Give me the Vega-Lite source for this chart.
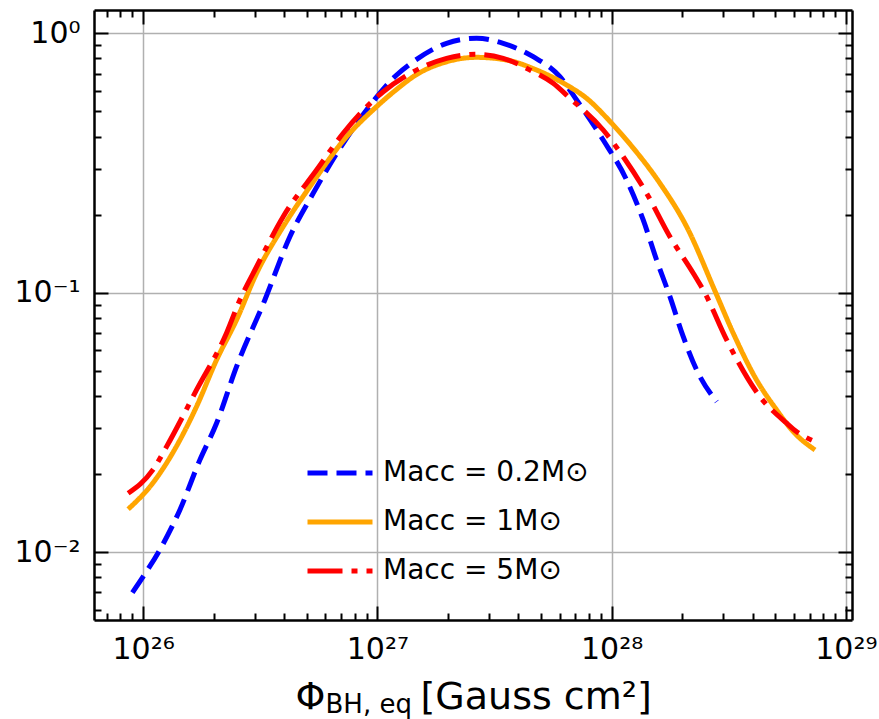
{
  "$schema": "https://vega.github.io/schema/vega-lite/v6.json",
  "width": 758,
  "height": 610,
  "autosize": "none",
  "padding": {"left": 94, "top": 10, "right": 27, "bottom": 99},
  "background": "white",
  "config": {
    "view": {"stroke": null},
    "font": "DejaVu Sans",
    "axis": {
      "labelFont": "DejaVu Sans",
      "titleFont": "DejaVu Sans",
      "labelColor": "black",
      "titleColor": "black",
      "tickColor": "black",
      "domainColor": "black",
      "tickWidth": 2,
      "domainWidth": 2.5,
      "labelFlush": false,
      "labelOverlap": false,
      "titleFontWeight": "normal"
    }
  },
  "datasets": {
    "curves": [
      {"series": "Macc = 0.2M⊙", "phi": 9.0e25, "frac": 0.00699},
      {"series": "Macc = 0.2M⊙", "phi": 1.0e26, "frac": 0.00805},
      {"series": "Macc = 0.2M⊙", "phi": 1.178e26, "frac": 0.01021},
      {"series": "Macc = 0.2M⊙", "phi": 1.435e26, "frac": 0.01456},
      {"series": "Macc = 0.2M⊙", "phi": 1.747e26, "frac": 0.02269},
      {"series": "Macc = 0.2M⊙", "phi": 2.058e26, "frac": 0.03141},
      {"series": "Macc = 0.2M⊙", "phi": 2.505e26, "frac": 0.0519},
      {"series": "Macc = 0.2M⊙", "phi": 3.308e26, "frac": 0.0938},
      {"series": "Macc = 0.2M⊙", "phi": 4.23e26, "frac": 0.1645},
      {"series": "Macc = 0.2M⊙", "phi": 5.32e26, "frac": 0.2417},
      {"series": "Macc = 0.2M⊙", "phi": 7.145e26, "frac": 0.3768},
      {"series": "Macc = 0.2M⊙", "phi": 8.99e26, "frac": 0.5063},
      {"series": "Macc = 0.2M⊙", "phi": 1.208e27, "frac": 0.691},
      {"series": "Macc = 0.2M⊙", "phi": 1.422e27, "frac": 0.777},
      {"series": "Macc = 0.2M⊙", "phi": 1.975e27, "frac": 0.915},
      {"series": "Macc = 0.2M⊙", "phi": 2.652e27, "frac": 0.957},
      {"series": "Macc = 0.2M⊙", "phi": 3.444e27, "frac": 0.915},
      {"series": "Macc = 0.2M⊙", "phi": 4.627e27, "frac": 0.8125},
      {"series": "Macc = 0.2M⊙", "phi": 6.016e27, "frac": 0.6805},
      {"series": "Macc = 0.2M⊙", "phi": 7.088e27, "frac": 0.5533},
      {"series": "Macc = 0.2M⊙", "phi": 9.207e27, "frac": 0.388},
      {"series": "Macc = 0.2M⊙", "phi": 1.159e28, "frac": 0.272},
      {"series": "Macc = 0.2M⊙", "phi": 1.364e28, "frac": 0.1908},
      {"series": "Macc = 0.2M⊙", "phi": 1.556e28, "frac": 0.1338},
      {"series": "Macc = 0.2M⊙", "phi": 1.774e28, "frac": 0.0966},
      {"series": "Macc = 0.2M⊙", "phi": 2.022e28, "frac": 0.0677},
      {"series": "Macc = 0.2M⊙", "phi": 2.307e28, "frac": 0.0504},
      {"series": "Macc = 0.2M⊙", "phi": 2.809e28, "frac": 0.038},
      {"series": "Macc = 1M⊙", "phi": 8.63e25, "frac": 0.01465},
      {"series": "Macc = 1M⊙", "phi": 1.103e26, "frac": 0.01854},
      {"series": "Macc = 1M⊙", "phi": 1.411e26, "frac": 0.0263},
      {"series": "Macc = 1M⊙", "phi": 1.69e26, "frac": 0.0364},
      {"series": "Macc = 1M⊙", "phi": 2.058e26, "frac": 0.0551},
      {"series": "Macc = 1M⊙", "phi": 2.505e26, "frac": 0.0786},
      {"series": "Macc = 1M⊙", "phi": 3.05e26, "frac": 0.1189},
      {"series": "Macc = 1M⊙", "phi": 3.96e26, "frac": 0.1798},
      {"series": "Macc = 1M⊙", "phi": 5.15e26, "frac": 0.2563},
      {"series": "Macc = 1M⊙", "phi": 7.39e26, "frac": 0.3996},
      {"series": "Macc = 1M⊙", "phi": 9.92e26, "frac": 0.5215},
      {"series": "Macc = 1M⊙", "phi": 1.248e27, "frac": 0.6226},
      {"series": "Macc = 1M⊙", "phi": 1.422e27, "frac": 0.6805},
      {"series": "Macc = 1M⊙", "phi": 1.975e27, "frac": 0.777},
      {"series": "Macc = 1M⊙", "phi": 2.652e27, "frac": 0.808},
      {"series": "Macc = 1M⊙", "phi": 3.562e27, "frac": 0.789},
      {"series": "Macc = 1M⊙", "phi": 4.784e27, "frac": 0.722},
      {"series": "Macc = 1M⊙", "phi": 6.427e27, "frac": 0.632},
      {"series": "Macc = 1M⊙", "phi": 7.823e27, "frac": 0.5617},
      {"series": "Macc = 1M⊙", "phi": 9.83e27, "frac": 0.458},
      {"series": "Macc = 1M⊙", "phi": 1.236e28, "frac": 0.3614},
      {"series": "Macc = 1M⊙", "phi": 1.608e28, "frac": 0.2642},
      {"series": "Macc = 1M⊙", "phi": 2.09e28, "frac": 0.1798},
      {"series": "Macc = 1M⊙", "phi": 2.785e28, "frac": 0.0998},
      {"series": "Macc = 1M⊙", "phi": 3.306e28, "frac": 0.0698},
      {"series": "Macc = 1M⊙", "phi": 4.159e28, "frac": 0.0461},
      {"series": "Macc = 1M⊙", "phi": 5.064e28, "frac": 0.03535},
      {"series": "Macc = 1M⊙", "phi": 5.963e28, "frac": 0.02916},
      {"series": "Macc = 1M⊙", "phi": 7.38e28, "frac": 0.02479},
      {"series": "Macc = 5M⊙", "phi": 8.63e25, "frac": 0.01688},
      {"series": "Macc = 5M⊙", "phi": 1.1e26, "frac": 0.02076},
      {"series": "Macc = 5M⊙", "phi": 1.259e26, "frac": 0.02553},
      {"series": "Macc = 5M⊙", "phi": 1.69e26, "frac": 0.04221},
      {"series": "Macc = 5M⊙", "phi": 2.271e26, "frac": 0.07001},
      {"series": "Macc = 5M⊙", "phi": 2.588e26, "frac": 0.0938},
      {"series": "Macc = 5M⊙", "phi": 3.05e26, "frac": 0.126},
      {"series": "Macc = 5M⊙", "phi": 3.96e26, "frac": 0.1965},
      {"series": "Macc = 5M⊙", "phi": 5.5e26, "frac": 0.2972},
      {"series": "Macc = 5M⊙", "phi": 7.145e26, "frac": 0.4118},
      {"series": "Macc = 5M⊙", "phi": 1.059e27, "frac": 0.5956},
      {"series": "Macc = 5M⊙", "phi": 1.422e27, "frac": 0.711},
      {"series": "Macc = 5M⊙", "phi": 1.975e27, "frac": 0.801},
      {"series": "Macc = 5M⊙", "phi": 2.652e27, "frac": 0.83},
      {"series": "Macc = 5M⊙", "phi": 3.444e27, "frac": 0.801},
      {"series": "Macc = 5M⊙", "phi": 4.478e27, "frac": 0.722},
      {"series": "Macc = 5M⊙", "phi": 5.63e27, "frac": 0.6416},
      {"series": "Macc = 5M⊙", "phi": 6.53e27, "frac": 0.5697},
      {"series": "Macc = 5M⊙", "phi": 9.207e27, "frac": 0.424},
      {"series": "Macc = 5M⊙", "phi": 1.121e28, "frac": 0.3345},
      {"series": "Macc = 5M⊙", "phi": 1.411e28, "frac": 0.2417},
      {"series": "Macc = 5M⊙", "phi": 1.774e28, "frac": 0.1645},
      {"series": "Macc = 5M⊙", "phi": 2.231e28, "frac": 0.1189},
      {"series": "Macc = 5M⊙", "phi": 2.503e28, "frac": 0.0996},
      {"series": "Macc = 5M⊙", "phi": 3.098e28, "frac": 0.0658},
      {"series": "Macc = 5M⊙", "phi": 4.297e28, "frac": 0.03978},
      {"series": "Macc = 5M⊙", "phi": 5.59e28, "frac": 0.03142},
      {"series": "Macc = 5M⊙", "phi": 6.166e28, "frac": 0.02916},
      {"series": "Macc = 5M⊙", "phi": 7.38e28, "frac": 0.02668}
    ]
  },
  "layer": [
    {
      "data": {"name": "curves"},
      "mark": {"type": "line", "strokeWidth": 5, "interpolate": "monotone", "strokeCap": "butt"},
      "encoding": {
        "x": {
          "field": "phi", "type": "quantitative",
          "scale": {"type": "log", "domain": [6.17e25, 1.062e29], "nice": false},
          "axis": {
            "orient": "bottom",
            "values": [1e26, 1e27, 1e28, 1e29],
            "labelExpr": "'10' + (datum.value < 5e26 ? '²⁶' : datum.value < 5e27 ? '²⁷' : datum.value < 5e28 ? '²⁸' : '²⁹')",
            "labelFontSize": 30,
            "labelPadding": 28,
            "tickSize": -14,
            "grid": true, "gridColor": "#b0b0b0", "gridWidth": 1.5,
            "title": "Φ", "titleFontSize": 38, "titleAlign": "left", "titleBaseline": "alphabetic",
            "titleX": 201, "titleY": 88, "titleAnchor": null
          }
        },
        "y": {
          "field": "frac", "type": "quantitative",
          "scale": {"type": "log", "domain": [0.00548, 1.23], "nice": false},
          "axis": {
            "orient": "left",
            "values": [0.01, 0.1, 1],
            "labelExpr": "datum.value > 0.5 ? '10⁰' : datum.value > 0.05 ? '10⁻¹' : '10⁻²'",
            "labelFontSize": 30,
            "labelPadding": 28,
            "tickSize": -14,
            "grid": true, "gridColor": "#b0b0b0", "gridWidth": 1.5,
            "title": null
          }
        },
        "color": {
          "field": "series", "type": "nominal",
          "scale": {"domain": ["Macc = 0.2M⊙", "Macc = 1M⊙", "Macc = 5M⊙"], "range": ["#0000ff", "#ffa500", "#ff0000"]},
          "legend": {
            "orient": "none", "legendX": 211, "legendY": 428,
            "title": null,
            "symbolType": "stroke", "symbolSize": 4225, "symbolStrokeWidth": 5,
            "labelFontSize": 28, "labelFont": "DejaVu Sans", "labelColor": "black",
            "labelOffset": 8, "rowPadding": -15, "labelLimit": 400
          }
        },
        "strokeDash": {
          "field": "series", "type": "nominal",
          "scale": {"domain": ["Macc = 0.2M⊙", "Macc = 1M⊙", "Macc = 5M⊙"], "range": [[20, 9], [1, 0], [35, 9, 6, 9]]},
          "legend": null
        }
      }
    },
    {
      "data": {"name": "curves"},
      "mark": {"type": "point", "opacity": 0},
      "encoding": {
        "x": {
          "field": "phi", "type": "quantitative",
          "scale": {"type": "log", "domain": [6.17e25, 1.062e29], "nice": false},
          "axis": {"orient": "top", "values": [1e26, 1e27, 1e28, 1e29], "labels": false, "tickSize": -14, "grid": false, "title": null}
        },
        "y": {
          "field": "frac", "type": "quantitative",
          "scale": {"type": "log", "domain": [0.00548, 1.23], "nice": false},
          "axis": {"orient": "right", "values": [0.01, 0.1, 1], "labels": false, "tickSize": -14, "grid": false, "title": null}
        }
      }
    },
    {
      "data": {"name": "curves"},
      "mark": {"type": "point", "opacity": 0},
      "encoding": {
        "x": {
          "field": "phi", "type": "quantitative",
          "scale": {"type": "log", "domain": [6.17e25, 1.062e29], "nice": false},
          "axis": {
            "orient": "bottom",
            "values": [7e25, 8e25, 9e25, 2e26, 3e26, 4e26, 5e26, 6e26, 7e26, 8e26, 9e26, 2e27, 3e27, 4e27, 5e27, 6e27, 7e27, 8e27, 9e27, 2e28, 3e28, 4e28, 5e28, 6e28, 7e28, 8e28, 9e28],
            "labels": false, "tickSize": -7, "grid": false, "domain": false,
            "title": "BH, eq", "titleFontSize": 26, "titleAlign": "left", "titleBaseline": "alphabetic",
            "titleX": 231, "titleY": 92, "titleAnchor": null
          }
        },
        "y": {
          "field": "frac", "type": "quantitative",
          "scale": {"type": "log", "domain": [0.00548, 1.23], "nice": false},
          "axis": {
            "orient": "left",
            "values": [0.006, 0.007, 0.008, 0.009, 0.02, 0.03, 0.04, 0.05, 0.06, 0.07, 0.08, 0.09, 0.2, 0.3, 0.4, 0.5, 0.6, 0.7, 0.8, 0.9],
            "labels": false, "tickSize": -7, "grid": false, "domain": false, "title": null
          }
        }
      }
    },
    {
      "data": {"name": "curves"},
      "mark": {"type": "point", "opacity": 0},
      "encoding": {
        "x": {
          "field": "phi", "type": "quantitative",
          "scale": {"type": "log", "domain": [6.17e25, 1.062e29], "nice": false},
          "axis": {
            "orient": "top",
            "values": [7e25, 8e25, 9e25, 2e26, 3e26, 4e26, 5e26, 6e26, 7e26, 8e26, 9e26, 2e27, 3e27, 4e27, 5e27, 6e27, 7e27, 8e27, 9e27, 2e28, 3e28, 4e28, 5e28, 6e28, 7e28, 8e28, 9e28],
            "labels": false, "tickSize": -7, "grid": false, "domain": false, "title": null
          }
        },
        "y": {
          "field": "frac", "type": "quantitative",
          "scale": {"type": "log", "domain": [0.00548, 1.23], "nice": false},
          "axis": {
            "orient": "right",
            "values": [0.006, 0.007, 0.008, 0.009, 0.02, 0.03, 0.04, 0.05, 0.06, 0.07, 0.08, 0.09, 0.2, 0.3, 0.4, 0.5, 0.6, 0.7, 0.8, 0.9],
            "labels": false, "tickSize": -7, "grid": false, "domain": false, "title": null
          }
        }
      }
    },
    {
      "data": {"name": "curves"},
      "mark": {"type": "point", "opacity": 0},
      "encoding": {
        "x": {
          "field": "phi", "type": "quantitative",
          "scale": {"type": "log", "domain": [6.17e25, 1.062e29], "nice": false},
          "axis": {
            "orient": "bottom", "labels": false, "ticks": false, "grid": false, "domain": false,
            "title": "[Gauss cm²]", "titleFontSize": 38, "titleAlign": "left", "titleBaseline": "alphabetic",
            "titleX": 326, "titleY": 88, "titleAnchor": null
          }
        },
        "y": {
          "field": "frac", "type": "quantitative",
          "scale": {"type": "log", "domain": [0.00548, 1.23], "nice": false},
          "axis": null
        }
      }
    }
  ],
  "resolve": {"axis": {"x": "independent", "y": "independent"}}
}
